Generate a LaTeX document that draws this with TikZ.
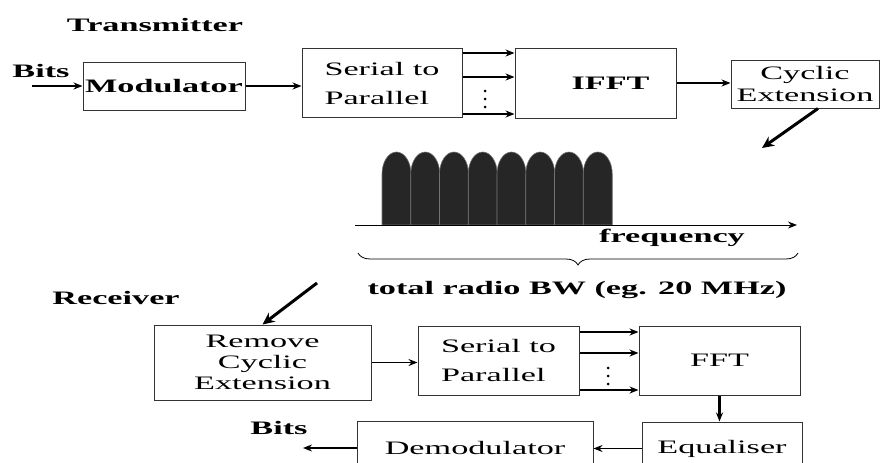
\documentclass[tikz,border=0pt]{standalone}
\usepackage{fontspec}
\setmainfont[FakeStretch=1.8]{Liberation Serif}
\usetikzlibrary{arrows.meta,decorations.pathreplacing}

\begin{document}
\begin{tikzpicture}[x=1pt, y=-1pt,
    bloque/.style={draw=black!80, line width=1pt, font=\fontsize{19}{21}\selectfont, align=center, inner sep=0pt},
    negrita/.style={font=\fontsize{19}{21}\selectfont\bfseries},
    sp/.style={font=\fontsize{19}{29}\selectfont, align=left},
    etiqueta/.style={font=\fontsize{19}{21}\selectfont\bfseries, inner sep=0pt},
    flecha/.style={line width=1.5pt, -{Stealth[length=9pt,width=7pt]}},
    flechagruesa/.style={line width=3pt, -{Stealth[length=12pt,width=11pt]}},
    lobulo/.style={fill=black!85, draw=black!55, line width=0.6pt}]
    \useasboundingbox (0,0) rectangle (881,463);
    \clip (0,0) rectangle (881,463);

    % Transmisor
    \node[etiqueta] (tx) at (155,25) {Transmitter};
    \node[etiqueta] (bitsin) at (41,71) {Bits};
    \coordinate (entrada) at (32,86);
    \node[bloque, negrita, minimum width=162pt, minimum height=48pt] (mod) at (164,86) {Modulator};
    \node[bloque, sp, minimum width=160pt, minimum height=69pt] (txsp) at (382,83) {Serial to\\Parallel};
    \node[bloque, negrita, minimum width=161pt, minimum height=70pt] (ifft) at (595.5,83) {\hspace*{30pt}IFFT};
    \node[bloque, minimum width=148pt, minimum height=48pt] (cyc) at (805,84) {Cyclic\\Extension};

    \draw[flecha] (entrada) -- (mod.west);
    \draw[flecha] (mod.east) -- (mod.east -| txsp.west);
    \draw[flecha] ([yshift=30pt]txsp.east) -- ([yshift=30pt]ifft.west);
    \draw[flecha] ([yshift=6pt]txsp.east) -- ([yshift=6pt]ifft.west);
    \draw[flecha] ([yshift=-31pt]txsp.east) -- ([yshift=-31pt]ifft.west);
    \fill (485,91) circle (1.5);
    \fill (485,99) circle (1.5);
    \fill (485,107) circle (1.5);
    \draw[flecha] (ifft.east) -- (ifft.east -| cyc.west);

    \coordinate (bajada) at (762,148);
    \draw[flechagruesa] ([xshift=13pt]cyc.south) -- (bajada);

    % Espectro de subportadoras
    \coordinate (ejeini) at (355,225);
    \coordinate (ejefin) at (797,225);
    \filldraw[lobulo] (382,225) -- (382,174) arc[start angle=180, end angle=360, x radius=14.5, y radius=22] -- (411,225) -- cycle;
    \filldraw[lobulo] (410.75,225) -- (410.75,174) arc[start angle=180, end angle=360, x radius=14.5, y radius=22] -- (439.75,225) -- cycle;
    \filldraw[lobulo] (439.5,225) -- (439.5,174) arc[start angle=180, end angle=360, x radius=14.5, y radius=22] -- (468.5,225) -- cycle;
    \filldraw[lobulo] (468.25,225) -- (468.25,174) arc[start angle=180, end angle=360, x radius=14.5, y radius=22] -- (497.25,225) -- cycle;
    \filldraw[lobulo] (497,225) -- (497,174) arc[start angle=180, end angle=360, x radius=14.5, y radius=22] -- (526,225) -- cycle;
    \filldraw[lobulo] (525.75,225) -- (525.75,174) arc[start angle=180, end angle=360, x radius=14.5, y radius=22] -- (554.75,225) -- cycle;
    \filldraw[lobulo] (554.5,225) -- (554.5,174) arc[start angle=180, end angle=360, x radius=14.5, y radius=22] -- (583.5,225) -- cycle;
    \filldraw[lobulo] (583.25,225) -- (583.25,174) arc[start angle=180, end angle=360, x radius=14.5, y radius=22] -- (612.25,225) -- cycle;
    \draw[flecha, line width=1pt] (ejeini) -- (ejefin);

    \node[etiqueta] (freq) at (672,238) {frequency};
    \coordinate (llaveini) at (358,253);
    \coordinate (llavefin) at (798,253);
    \draw[decorate, decoration={brace, amplitude=12pt, mirror}, line width=0.8pt] (llaveini) -- (llavefin);
    \node[etiqueta] (bw) at (577,290) {total radio BW (eg. 20 MHz)};

    % Receptor
    \node[etiqueta] (rx) at (116,298) {Receiver};
    \coordinate (subida) at (317,283);
    \node[bloque, minimum width=217pt, minimum height=75pt] (rce) at (262.5,362.5) {Remove\\Cyclic\\Extension};
    \node[bloque, sp, minimum width=161pt, minimum height=69pt] (rxsp) at (498.5,360.5) {Serial to\\Parallel};
    \node[bloque, minimum width=161pt, minimum height=69pt] (fft) at (719.5,360.5) {FFT};
    \node[bloque, minimum width=160pt, minimum height=53pt] (equ) at (722,448.5) {Equaliser};
    \node[bloque, minimum width=236pt, minimum height=54pt] (dem) at (475,448) {Demodulator};
    \node[etiqueta] (bitsout) at (279,428) {Bits};
    \coordinate (salida) at (303,448);

    \draw[flechagruesa] (subida) -- (rce.north);
    \draw[flecha] (rce.east) -- (rce.east -| rxsp.west);
    \draw[flecha] ([yshift=28.5pt]rxsp.east) -- ([yshift=28.5pt]fft.west);
    \draw[flecha] ([yshift=7.5pt]rxsp.east) -- ([yshift=7.5pt]fft.west);
    \draw[flecha] ([yshift=-29.5pt]rxsp.east) -- ([yshift=-29.5pt]fft.west);
    \fill (608,368) circle (1.5);
    \fill (608,376) circle (1.5);
    \fill (608,384) circle (1.5);
    \draw[flecha, line width=2.5pt] (fft.south) -- (fft.south |- equ.north);
    \draw[flecha] (equ.west) -- (equ.west -| dem.east);
    \draw[flecha] (dem.west) -- (salida);
\end{tikzpicture}
\end{document}
